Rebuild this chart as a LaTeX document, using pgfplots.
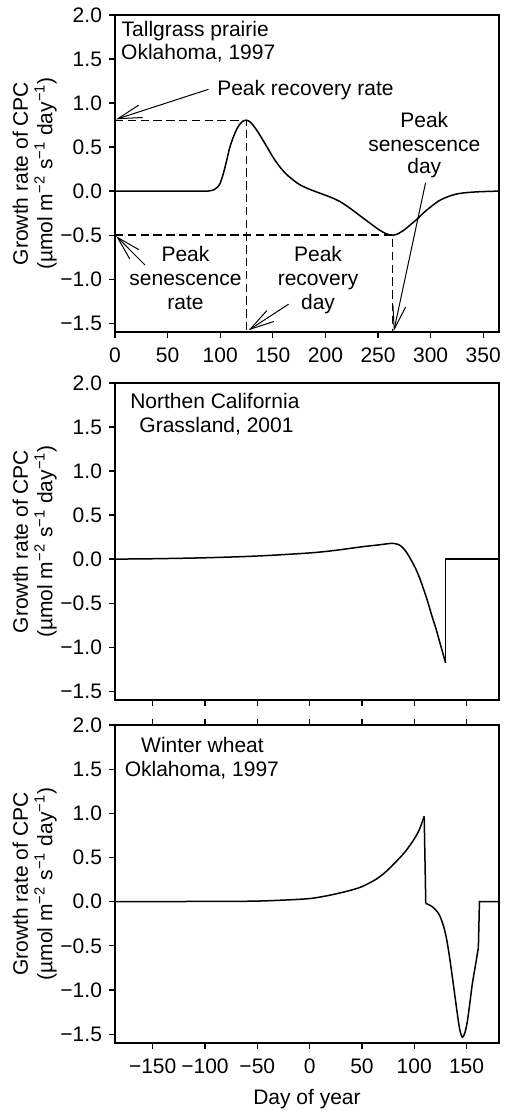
\documentclass[border=0pt]{standalone}
\usepackage{fontspec}
\setmainfont{Liberation Sans}
\usepackage{pgfplots}
\pgfplotsset{compat=1.18}
\usetikzlibrary{arrows.meta}

\pgfplotsset{
  panel/.style={
    scale only axis, width=192pt, anchor=south west,
    ymin=-1.6, ymax=2.0,
    ytick={-1.5,-1,-0.5,0,0.5,1,1.5,2},
    yticklabels={−1.5,−1.0,−0.5,0.0,0.5,1.0,1.5,2.0},
    ytick pos=left,
    tick align=outside,
    major tick length=3pt,
    tick style={line width=0.6pt, black},
    axis line style={line width=0.6pt},
    ticklabel style={font=\fontsize{10.5}{12}\selectfont},
    xticklabel style={yshift=-1.5pt},
    ylabel={Growth rate of CPC\\(µmol m\textsuperscript{−2} s\textsuperscript{−1} day\textsuperscript{−1})},
    ylabel style={align=center, font=\fontsize{10.5}{12.3}\selectfont,
      at={(axis description cs:-0.209,0.5)}, anchor=center},
    clip=false,
  },
  curve/.style={black, line width=0.75pt, mark=none},
}
\tikzset{
  note/.style={font=\fontsize{10.5}{12}\selectfont, inner sep=0pt},
  guide/.style={black, line width=0.65pt, dash pattern=on 4.2pt off 2.2pt},
  pointer/.style={black, line width=0.5pt, -{Straight Barb[length=12pt,width=6.5pt]}},
}

\begin{document}
\begin{tikzpicture}

% tallgrass prairie
\begin{axis}[panel, at={(57.5pt,389.5pt)}, height=158.5pt,
  xmin=0, xmax=365, xtick pos=bottom,
  xtick={0,50,...,350}, xticklabels={0,50,100,150,200,250,300,350}]
\addplot[curve, smooth, tension=0.5] coordinates {
  (0,0) (60,0) (85,0) (90,0.003) (94,0.015) (97,0.04) (100,0.09) (103,0.2)
  (106,0.34) (109,0.49) (113,0.63) (117,0.73) (121,0.79) (125,0.805) (129,0.78)
  (133,0.72) (137,0.65) (141,0.57) (146,0.47) (151,0.37) (157,0.27) (163,0.19)
  (170,0.12) (176,0.07) (185,0.02) (195,-0.025) (205,-0.07) (214,-0.12)
  (224,-0.2) (234,-0.29) (243,-0.37) (251,-0.44) (258,-0.485) (263,-0.5)
  (268,-0.49) (275,-0.44) (281,-0.38) (287,-0.32) (293,-0.25) (300,-0.18)
  (308,-0.11) (316,-0.065) (324,-0.035) (332,-0.02) (345,-0.008) (365,0)
};
\draw[guide] (axis cs:0,0.8) -- (axis cs:125,0.8) -- (axis cs:125,-1.6);
\draw[guide] (axis cs:0,-0.5) -- (axis cs:264,-0.5) -- (axis cs:264,-1.6);
\node[note, anchor=base west] at (axis cs:6,1.76) {Tallgrass prairie};
\node[note, anchor=base west] at (axis cs:5.5,1.49) {Oklahoma, 1997};
\node[note, anchor=base] at (axis cs:181,1.08) {Peak recovery rate};
\draw[pointer] (axis cs:88.9,1.156) -- (axis cs:1,0.815);
\node[note, anchor=base] at (axis cs:67,-0.80) {Peak};
\node[note, anchor=base] at (axis cs:67,-1.076) {senescence};
\node[note, anchor=base] at (axis cs:67,-1.345) {rate};
\draw[pointer] (axis cs:28.6,-0.84) -- (axis cs:1,-0.51);
\node[note, anchor=base] at (axis cs:193,-0.80) {Peak};
\node[note, anchor=base] at (axis cs:193,-1.076) {recovery};
\node[note, anchor=base] at (axis cs:193,-1.345) {day};
\draw[pointer] (axis cs:165,-1.284) -- (axis cs:127,-1.58);
\node[note, anchor=base] at (axis cs:294,0.72) {Peak};
\node[note, anchor=base] at (axis cs:294,0.447) {senescence};
\node[note, anchor=base] at (axis cs:294,0.20) {day};
\draw[pointer] (axis cs:295.2,0.095) -- (axis cs:265,-1.59);
\end{axis}

% northern california grassland
\begin{axis}[panel, at={(57.5pt,205.5pt)}, height=158.5pt,
  xmin=-186, xmax=181, xtick pos=bottom,
  xtick={-150,-100,...,150}, xticklabels={}]
\addplot[curve, smooth, tension=0.5] coordinates {
  (-186,0) (-150,0.004) (-100,0.015) (-50,0.035) (0,0.07) (25,0.1) (50,0.14)
  (65,0.16) (75,0.175) (80,0.178) (85,0.165) (89,0.13) (93,0.07) (97,-0.01)
  (101,-0.1) (105,-0.21) (108,-0.31) (112,-0.45) (117,-0.65) (121,-0.8)
  (125,-0.97) (130,-1.18)
};
\addplot[curve] coordinates {(130,-1.18) (130,0) (181,0)};
\node[note, anchor=base] at (axis cs:-90.5,1.705) {Northen California};
\node[note, anchor=base] at (axis cs:-89,1.435) {Grassland, 2001};
\end{axis}

% winter wheat
\begin{axis}[panel, at={(57.5pt,34pt)}, height=159pt,
  xmin=-186, xmax=181, xtick pos=both,
  xtick={-150,-100,...,150}, xticklabels={−150,−100,−50,0,50,100,150},
  xlabel={Day of year}, xlabel style={font=\fontsize{10.5}{12}\selectfont, yshift=-1pt}]
\addplot[curve, smooth, tension=0.5] coordinates {
  (-186,0) (-150,0) (-100,0.003) (-57,0.005) (-30,0.015) (0,0.035) (20,0.075)
  (38,0.125) (50,0.17) (63,0.25) (73,0.34) (84,0.47) (92,0.575) (100,0.71)
  (105,0.82) (109.5,0.966)
};
\addplot[curve] coordinates {(109.5,0.966) (111,-0.02)};
\addplot[curve, smooth, tension=0.5] coordinates {
  (111,-0.02) (114,-0.035) (117.5,-0.06) (121,-0.1) (124,-0.15) (127,-0.24)
  (130,-0.37) (133,-0.57) (136.5,-0.86) (139,-1.08) (141.3,-1.28) (143.5,-1.45)
  (146,-1.535) (148.5,-1.48) (150.8,-1.35) (153,-1.16) (155.5,-0.93)
  (158.5,-0.72) (161.3,-0.52)
};
\addplot[curve] coordinates {(161.3,-0.52) (162.3,0) (181,0)};
\node[note, anchor=base] at (axis cs:-102.4,1.69) {Winter wheat};
\node[note, anchor=base] at (axis cs:-103,1.42) {Oklahoma, 1997};
\end{axis}

\pgfresetboundingbox
\path[use as bounding box] (0,0) rectangle (253pt,555.5pt);
\end{tikzpicture}
\end{document}
